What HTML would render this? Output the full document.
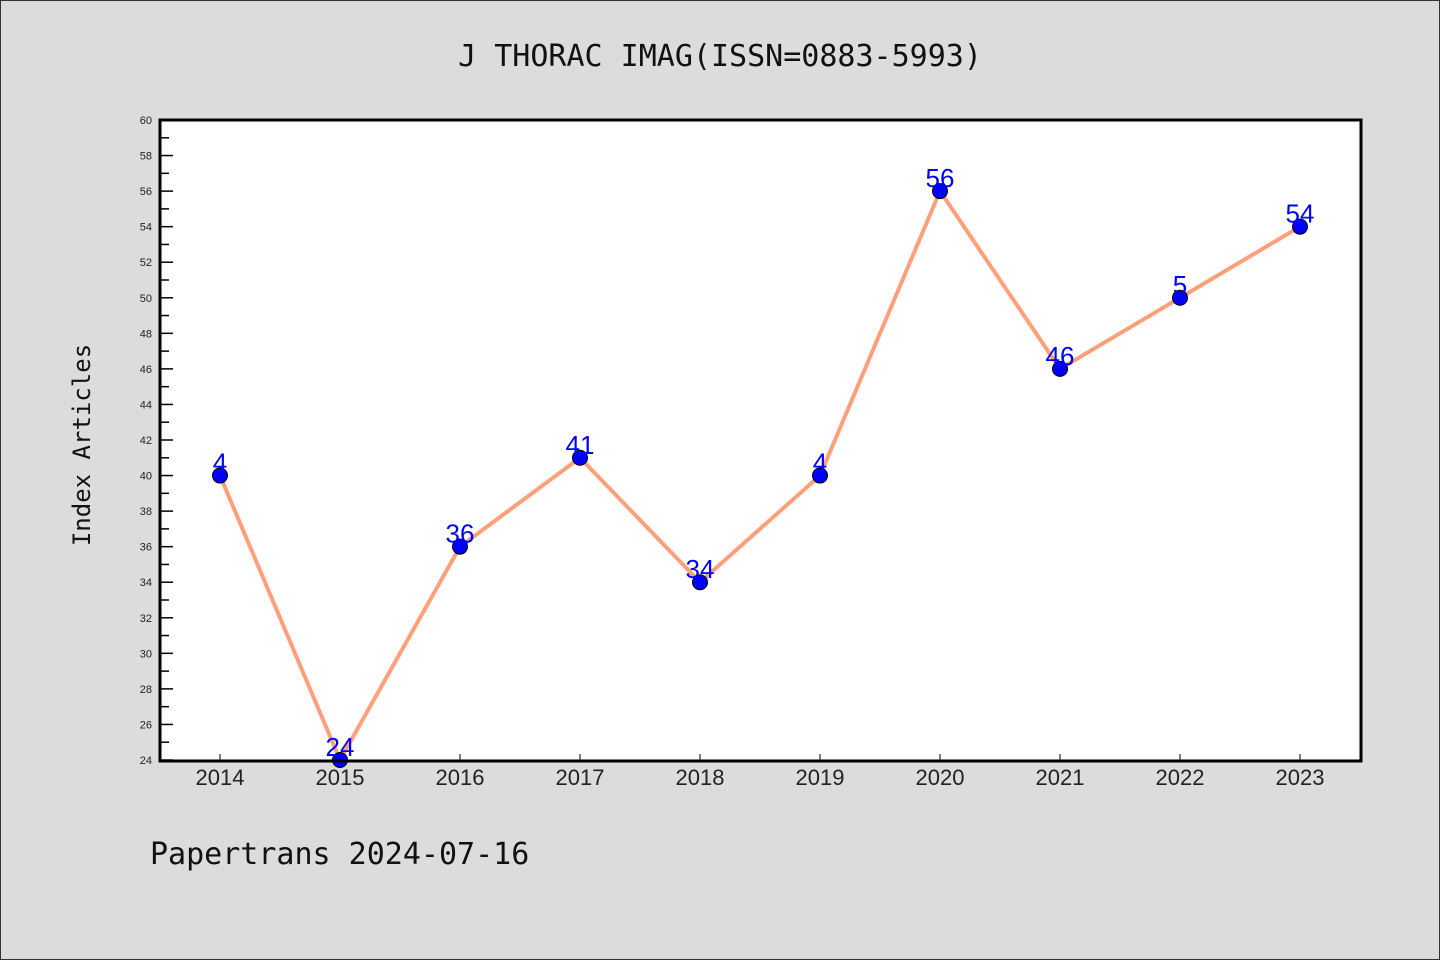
<!DOCTYPE html>
<html><head><meta charset="utf-8"><style>
body{margin:0;background:#dcdcdc;}
svg{display:block;font-family:"Liberation Sans","DejaVu Sans",sans-serif;}
</style></head><body>
<svg width="1440" height="960">
<rect x="0.5" y="0.5" width="1439" height="959" fill="#dcdcdc" stroke="#333"/>
<text x="720" y="66" text-anchor="middle" font-size="30" font-family="DejaVu Sans Mono, Liberation Mono, monospace" fill="#111">J THORAC IMAG(ISSN=0883-5993)</text>
<rect x="160" y="120" width="1201" height="641" fill="#fff"/>
<g id="axes"></g>
<g id="marks"></g>
<rect x="160" y="120" width="1201" height="641" fill="none" stroke="#000" stroke-width="3"/>
<text x="90" y="445" text-anchor="middle" font-size="24" font-family="DejaVu Sans Mono, Liberation Mono, monospace" fill="#111" transform="rotate(-90 90 445)">Index Articles</text>
<text x="150" y="864" font-size="30" font-family="DejaVu Sans Mono, Liberation Mono, monospace" fill="#111">Papertrans 2024-07-16</text>
</svg>
<script>
const years=["2014","2015","2016","2017","2018","2019","2020","2021","2022","2023"];
const values=[40,24,36,41,34,40,56,46,50,54];
const valueLabels=["4","24","36","41","34","4","56","46","5","54"];
const yMin=24,yMax=60;
const NS="http://www.w3.org/2000/svg";
function X(i){return 220+i*120;}
function Y(v){return 760-(v-yMin)*(640/(yMax-yMin));}
function mk(t,a,p){const e=document.createElementNS(NS,t);for(const k in a)e.setAttribute(k,a[k]);p.appendChild(e);return e;}
const ax=document.getElementById('axes'),mg=document.getElementById('marks');
for(let v=yMin;v<=yMax;v++){
  const major=(v%2===0);
  const t=mk('line',{x1:160,x2:major?173:169,y1:Y(v),y2:Y(v),stroke:'#000','stroke-width':1.5},ax);
  
  
  if(major){const l=mk('text',{x:152,y:Y(v)+4,'text-anchor':'end','font-size':11,fill:'#222'},ax);l.textContent=v;
  
  }
}
years.forEach((yr,i)=>{
  const t=mk('line',{x1:X(i),x2:X(i),y1:760,y2:754,stroke:'#000','stroke-width':1},ax);
  
  
  const l=mk('text',{x:X(i),y:785,'text-anchor':'middle','font-size':22,fill:'#222'},ax);l.textContent=yr;
  
  
});
const pl=mk('polyline',{points:values.map((v,i)=>X(i)+','+Y(v)).join(' '),fill:'none',stroke:'#ffa07a','stroke-width':4},mg);


values.forEach((v,i)=>{
  const c=mk('circle',{cx:X(i),cy:Y(v),r:7.5,fill:'#0000ff',stroke:'#000','stroke-width':1},mg);
  
  
  const l=mk('text',{x:X(i),y:Y(v)-4,'text-anchor':'middle','font-size':26,fill:'#0000ff'},mg);l.textContent=valueLabels[i];
  
  
});
</script>
</body></html>
